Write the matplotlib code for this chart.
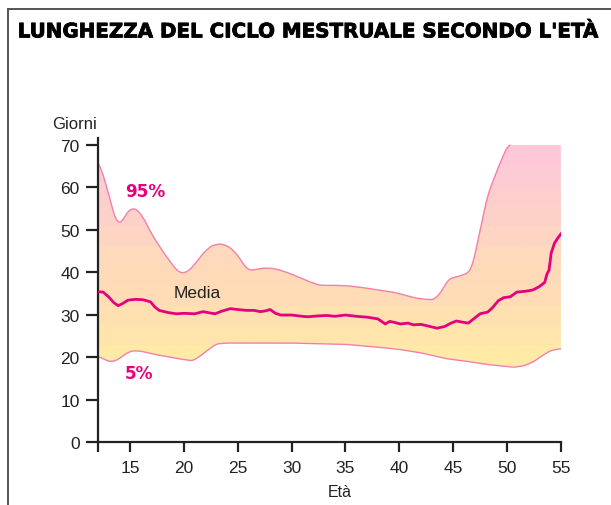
import numpy as np
import matplotlib.pyplot as plt
from matplotlib.colors import LinearSegmentedColormap
from matplotlib.lines import Line2D
import matplotlib.patheffects as pe

plt.rcParams['font.family'] = ['Liberation Sans', 'DejaVu Sans']

# median cycle length
media_age = [12, 12.5, 13, 13.5, 13.9, 14.3, 14.8, 15.5, 16.2, 16.9, 17.3, 17.7, 18.5, 19.3,
             20, 21, 21.8, 22.4, 22.9, 23.5, 24.3, 25, 25.8, 26.5, 27.1, 27.6, 28, 28.5, 29,
             30, 31, 31.5, 32.5, 33.3, 34, 35, 36, 37, 38, 38.7, 39.1, 39.5, 40.1, 40.8, 41.3,
             42, 42.7, 43.5, 44.2, 44.8, 45.3, 45.9, 46.4, 47, 47.5, 48.2, 48.6, 49.2, 49.7,
             50.3, 50.9, 51.7, 52.4, 53, 53.5, 53.7, 53.9, 54.1, 54.4, 54.7, 55]
media_val = [35.4, 35.3, 34.2, 32.8, 32.1, 32.6, 33.4, 33.6, 33.5, 33.0, 31.8, 31.0, 30.5, 30.2,
             30.3, 30.2, 30.7, 30.4, 30.2, 30.8, 31.4, 31.2, 31.0, 31.0, 30.7, 30.9, 31.2, 30.3, 29.9,
             29.9, 29.6, 29.5, 29.7, 29.8, 29.6, 29.9, 29.6, 29.4, 29.0, 27.8, 28.4, 28.2, 27.8, 28.0, 27.6,
             27.7, 27.3, 26.8, 27.2, 28.0, 28.5, 28.2, 28.0, 29.2, 30.2, 30.6, 31.5, 33.3, 34.0,
             34.2, 35.3, 35.5, 35.8, 36.6, 37.6, 39.5, 40.5, 44.5, 46.8, 48.0, 49.0]

# 95th percentile
p95_age = [12, 12.5, 13, 13.5, 13.9, 14.3, 14.8, 15.5, 16.2, 17, 18, 19, 19.6, 20.3, 21, 21.8,
           22.6, 23.4, 24.2, 25, 25.6, 26.1, 26.8, 27.4, 28.5, 29.5, 30.5, 31.5, 32.6, 34, 35.1,
           36.5, 38.2, 39.4, 40.5, 41.5, 42.5, 43.2, 43.9, 44.4, 44.8, 45.5, 46.4, 46.8, 47.2,
           47.6, 48.1, 48.7, 49.4, 50.1, 55]
p95_val = [66.2, 63, 58.5, 53.5, 51.4, 52.0, 54.5, 55.1, 53.0, 49.0, 45.0, 41.5, 39.8, 40.0, 41.8, 44.5,
           46.3, 46.7, 46.0, 44.0, 41.5, 40.4, 40.7, 41.0, 40.8, 40.0, 39.0, 37.9, 36.9, 36.9, 36.8,
           36.4, 35.7, 35.3, 34.6, 33.9, 33.6, 33.5, 35.3, 37.8, 38.6, 39.0, 39.8, 41.5, 46.3,
           51.0, 57.3, 61.5, 66.0, 70.0, 70.0]

# 5th percentile
p5_age = [12, 12.5, 13, 13.4, 14, 14.6, 15.2, 16, 17, 17.5, 18.5, 19.5, 20.3, 20.8, 21.5, 22.3,
          23.0, 24, 25, 30, 35, 38.2, 40, 42, 44.4, 46, 48, 49.5, 50.6, 51.5, 52.4, 53.2, 54, 55]
p5_val = [20.2, 19.6, 19.0, 18.9, 19.6, 20.8, 21.5, 21.4, 20.8, 20.5, 20.1, 19.6, 19.3, 19.1, 20.2, 21.8,
          23.1, 23.3, 23.3, 23.3, 23.0, 22.3, 21.8, 21.0, 19.6, 19.1, 18.3, 17.9, 17.6, 17.9, 18.8, 20.2, 21.5, 22.0]

x_ticks = [12, 15, 20, 25, 30, 35, 40, 45, 50, 55]
x_labels = ['', '15', '20', '25', '30', '35', '40', '45', '50', '55']
y_ticks = [0, 10, 20, 30, 40, 50, 60, 70]


def smooth(y, w=9):
    pad = np.pad(y, w // 2, mode='edge')
    return np.convolve(pad, np.ones(w) / w, mode='valid')


fig = plt.figure(figsize=(6.11, 5.06), dpi=100)
ax = fig.add_axes([0.160, 0.1245, 0.758, 0.600])

grid = np.linspace(12, 55, 600)
up = np.minimum(smooth(np.interp(grid, p95_age, p95_val)), 70)
lo = smooth(np.interp(grid, p5_age, p5_val))

band = ax.fill_between(grid, lo, up, color='none', lw=0)
cmap = LinearSegmentedColormap.from_list(
    'band', [(0.0, '#ffeaa6'), (0.17, '#ffe2b0'), (0.3, '#ffdcb6'), (0.5, '#fed9bc'),
             (0.68, '#fdd2c8'), (0.85, '#fdcdd0'), (1.0, '#ffc8d9')], N=11)
grad = np.linspace(18, 70, 200).reshape(-1, 1)
img = ax.imshow(grad, extent=[12, 55, 18, 70], origin='lower', aspect='auto',
                cmap=cmap, zorder=1)
img.set_clip_path(band.get_paths()[0], transform=ax.transData)

edge = '#f47fab'
ax.plot(grid[up < 69.9], up[up < 69.9], color=edge, lw=1.0, zorder=2)
ax.plot(grid, lo, color=edge, lw=1.0, zorder=2)
ax.plot(media_age, media_val, color='#e5007d', lw=2.0, zorder=3, solid_joinstyle='round')

lab_font = ['DejaVu Sans']
ax.text(14.5, 59.2, '95%', color='#e5007d', fontsize=12.2, fontweight='bold', va='center', family=lab_font)
ax.text(14.5, 16.3, '5%', color='#e5007d', fontsize=12.2, fontweight='bold', va='center', family=lab_font)
ax.text(19.0, 35.1, 'Media', color='#222222', fontsize=12.5, va='center')

ax.set_xlim(12, 55)
ax.set_ylim(0, 71.5)
ax.set_xticks(x_ticks)
ax.set_xticklabels(x_labels)
ax.set_yticks(y_ticks)
for s in ['top', 'right']:
    ax.spines[s].set_visible(False)
for s in ['left', 'bottom']:
    ax.spines[s].set_linewidth(1.6)
    ax.spines[s].set_color('#222222')
ax.tick_params(axis='y', length=9, width=1.6, pad=4, labelsize=12.5, color='#222222', labelcolor='#222222')
ax.tick_params(axis='x', length=7, width=1.6, pad=6, labelsize=12.5, color='#222222', labelcolor='#222222')

fig.text(0.085, 0.753, 'Giorni', fontsize=12, va='center', color='#222222')
fig.text(0.556, 0.026, 'Età', fontsize=11.5, ha='center', va='center', color='#222222')
fig.text(0.029, 0.935, "LUNGHEZZA DEL CICLO MESTRUALE SECONDO L'ETÀ", fontsize=14.3,
         fontweight='bold', va='center', color='black', family=lab_font,
         path_effects=[pe.withStroke(linewidth=0.6, foreground='black')])

# frame around the figure
fig.add_artist(Line2D([0.013, 0.013], [0, 0.980], transform=fig.transFigure, color='#555555', lw=1.4))
fig.add_artist(Line2D([0.013, 1.0], [0.980, 0.980], transform=fig.transFigure, color='#555555', lw=1.4))

fig.savefig('out.png', dpi=100)
